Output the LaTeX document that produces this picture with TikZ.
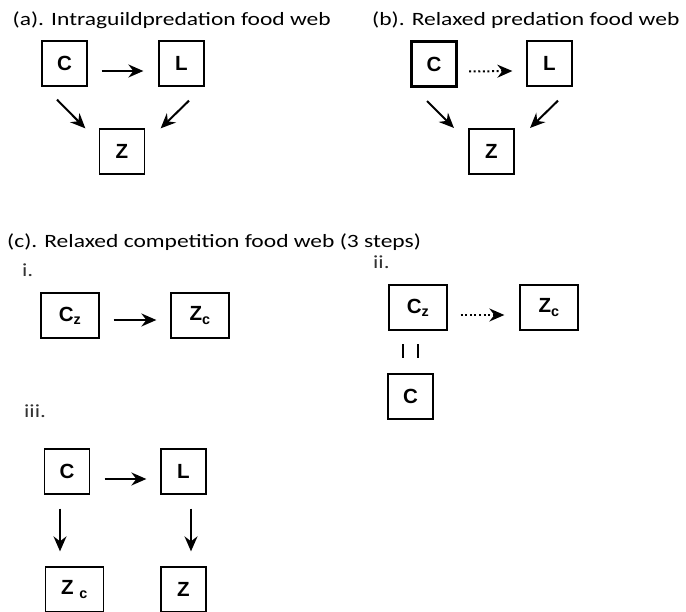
\documentclass[tikz,border=0pt]{standalone}
\usepackage{fontspec}
\setmainfont{Carlito}
\newfontfamily\boxfont{Liberation Sans}
\usetikzlibrary{arrows.meta}
\newcommand\widetext[1]{\scalebox{1.25}[1]{#1}}

\begin{document}
\begin{tikzpicture}[x=1pt,y=-1pt,
	sp/.style={draw,line width=1.3pt,minimum width=45pt,minimum height=45pt,inner sep=0pt,font=\boxfont\bfseries\fontsize{20.5}{21}\selectfont},
	wide/.style={sp,minimum width=58pt},
	heavy/.style={line width=2.1pt},
	eat/.style={-{Stealth[length=15pt,width=13pt,inset=5pt]},line width=2pt},
	loose/.style={eat,dash pattern=on 2pt off 2.6pt},
	title/.style={anchor=base west,inner sep=0pt,font=\fontsize{18.8}{22}\selectfont},
	step label/.style={anchor=base west,inner sep=0pt,text=black!80,font=\fontsize{18.5}{22}\selectfont}]
	\useasboundingbox (0,0) rectangle (686,612);
	\node (ta) at (12.5,26) [title] {\widetext{(a). Intraguildpredation food web}};
	\node (tb) at (372,26) [title] {\widetext{(b). Relaxed predation food web}};
	\node (tc) at (7,248) [title] {\widetext{(c). Relaxed competition food web (3 steps)}};
	\node (ti) at (22,277) [step label] {\widetext{i.}};
	\node (tii) at (373,269) [step label] {\widetext{ii.}};
	\node (tiii) at (24,418) [step label] {\widetext{iii.}};
	% (a)
	\node (aC) at (64.5,63.5) [sp] {C};
	\node (aL) at (181.5,63.5) [sp] {L};
	\node (aZ) at (122,151.5) [sp] {Z};
	\draw[eat] ([xshift=14pt,yshift=-7.5pt]aC.east) -- ([xshift=-15pt,yshift=-7.5pt]aL.west);
	\draw[eat] ([xshift=-7.5pt,yshift=-13pt]aC.south) -- ([xshift=-13.5pt]aZ.north west);
	\draw[eat] ([xshift=7.5pt,yshift=-14pt]aL.south) -- ([xshift=15.5pt]aZ.north east);
	% (b)
	\node (bC) at (434,64) [sp,heavy] {C};
	\node (bL) at (549.5,63.5) [sp] {L};
	\node (bZ) at (491.5,151.5) [sp,heavy] {Z};
	\draw[loose] ([xshift=11.5pt,yshift=-7.5pt]bC.east) -- ([xshift=-14pt,yshift=-7.5pt]bL.west);
	\draw[eat] ([xshift=-7pt,yshift=-13.5pt]bC.south) -- ([xshift=-14pt]bZ.north west);
	\draw[eat] ([xshift=8.5pt,yshift=-14pt]bL.south) -- ([xshift=15pt]bZ.north east);
	% (c) i.
	\node (iCz) at (70,315.5) [wide] {C\textsubscript{z}};
	\node (iZc) at (200,315.5) [wide] {Z\textsubscript{c}};
	\draw[eat] ([xshift=14pt,yshift=-4.5pt]iCz.east) -- ([xshift=-14pt,yshift=-4.5pt]iZc.west);
	% (c) ii.
	\node (iiCz) at (418,307.5) [wide] {C\textsubscript{z}};
	\node (iiZc) at (549,307.5) [wide] {Z\textsubscript{c}};
	\node (iiC) at (410.5,396.5) [sp] {C};
	\draw[loose] ([xshift=13pt,yshift=-7.5pt]iiCz.east) -- ([xshift=-15pt,yshift=-7.5pt]iiZc.west);
	\draw[line width=2pt] ([xshift=-7.5pt,yshift=29pt]iiC.north) -- ++(0,14);
	\draw[line width=2pt] ([xshift=7.5pt,yshift=29pt]iiC.north) -- ++(0,14);
	% (c) iii.
	\node (iiiC) at (67,471.5) [sp] {C};
	\node (iiiL) at (183.5,471.5) [sp] {L};
	\node (iiiZc) at (74.5,589.5) [wide] {Z \textsubscript{c}};
	\node (iiiZ) at (183.5,589.5) [sp] {Z};
	\draw[eat] ([xshift=14.5pt,yshift=-7.5pt]iiiC.east) -- ([xshift=-14pt,yshift=-7.5pt]iiiL.west);
	\draw[eat] ([xshift=-7pt,yshift=-14pt]iiiC.south) -- ([xshift=-14.5pt,yshift=15pt]iiiZc.north);
	\draw[eat] ([xshift=7.5pt,yshift=-14pt]iiiL.south) -- ([xshift=7.5pt,yshift=15pt]iiiZ.north);
\end{tikzpicture}
\end{document}
